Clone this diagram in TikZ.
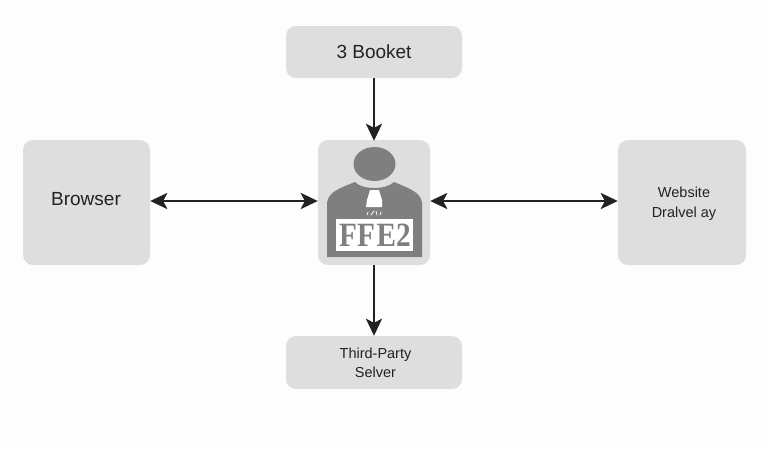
\documentclass[tikz,border=0pt]{standalone}
\usepackage{fontspec}
\setmainfont{Liberation Sans}
\newfontfamily\labelserif{Liberation Serif}
\usetikzlibrary{arrows.meta}
\definecolor{pagefill}{HTML}{FDFDFD}
\definecolor{boxfill}{HTML}{DEDEDE}
\definecolor{personfill}{HTML}{7F7F7F}
\definecolor{inkdark}{HTML}{222222}
\tikzset{
  x=1pt,y=-1pt,
  box/.style={fill=boxfill,draw=none,rounded corners=10pt,minimum width=#1,inner sep=0pt,align=center,text=inkdark},
  headtip/.tip={Stealth[length=17pt,width=16pt,inset=4pt]},
  conn/.style={draw=inkdark,line width=2.4pt,-headtip},
  biconn/.style={draw=inkdark,line width=2.4pt,headtip-headtip},
  person/.style={fill=personfill,draw=none},
}
\begin{document}
\begin{tikzpicture}
\useasboundingbox[fill=pagefill] (0,0) rectangle (768,448);
\node[box=176pt,minimum height=52pt,font=\fontsize{19}{22}\selectfont] (booket) at (374,52) {3 Booket};
\node[box=127pt,minimum height=125pt] (browser) at (86.5,202.5) {};
\node[text=inkdark,inner sep=0pt,font=\fontsize{19}{22}\selectfont] (browserlabel) at (86,199.5) {Browser};
\node[box=112pt,minimum height=125pt] (center) at (374,202.5) {};
\node[box=128pt,minimum height=125pt] (website) at (682,202.5) {};
\node[text=inkdark,inner sep=0pt,align=center,font=\fontsize{14.5}{20}\selectfont] (websitelabel) at (684,204) {Website\\Dralvel ay};
\node[box=176pt,minimum height=53pt] (server) at (374,362.5) {};
\node[text=inkdark,inner sep=0pt,align=center,font=\fontsize{14.5}{19}\selectfont] (serverlabel) at (375.5,363) {Third-Party\\Selver};
% person icon
\fill[person] (327,257) -- (327,203) .. controls (328,192) and (340,188) .. (355,182)
  .. controls (362,190) and (386,190) .. (394,182)
  .. controls (408,188) and (421,192) .. (422,203) -- (422,257) -- cycle;
\fill[person] (374.5,164) ellipse (21 and 17);
\fill[white] (370,190) -- (379,190) -- (382,200) -- (382,207) -- (366,207) -- (367,200) -- cycle;
\draw[white,line width=0.8pt,line cap=round] (368,212) -- (367,215) (374,211) -- (371,215) (376,211) -- (377,215) (381,212) -- (380,215);
\node[fill=white,minimum width=77pt,minimum height=32pt,inner sep=0pt] (badge) at (374.5,235) {};
\node[inner sep=0pt,text=personfill,xscale=.86,font=\labelserif\bfseries\fontsize{34}{34}\selectfont] (badgelabel) at (375,235) {FF\kern2pt E2};
% connectors
\draw[conn] (booket.south) -- ([yshift=-1pt]center.north);
\draw[biconn] ([yshift=1.5pt]browser.east) -- ([yshift=1.5pt]center.west);
\draw[biconn] ([yshift=1.5pt]center.east) -- ([yshift=1.5pt]website.west);
\draw[conn] (center.south) -- (server.north);
\end{tikzpicture}
\end{document}
